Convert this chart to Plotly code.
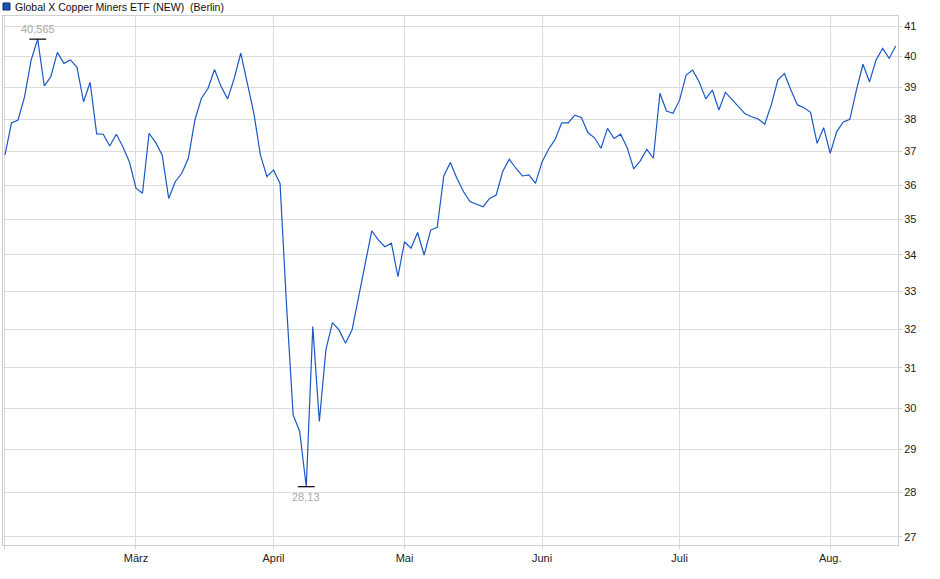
import numpy as np
import pandas as pd
import plotly.graph_objects as go

# trading days at Berlin, Feb 3 - Aug 15 2025 (no weekends / exchange holidays)
holidays = ['2025-04-18', '2025-04-21', '2025-05-01']
days = pd.bdate_range('2025-02-03', '2025-08-15')
days = days[~days.isin(pd.to_datetime(holidays))]
dates = [d.strftime('%Y-%m-%d') for d in days]

# closing prices (EUR)
prices = [
    36.90, 37.88, 37.97, 38.70, 39.88, 40.565, 39.04, 39.34, 40.13, 39.77,
    39.88, 39.64, 38.54, 39.16, 37.54, 37.53, 37.17, 37.53, 37.15, 36.69,
    35.91, 35.76, 37.56, 37.28, 36.90, 35.61, 36.10, 36.35, 36.80, 37.97,
    38.65, 38.96, 39.57, 39.02, 38.63, 39.28, 40.10, 39.07, 38.18, 36.90,
    36.25, 36.45, 36.05, 32.60, 29.83, 29.43, 28.13, 32.07, 29.67, 31.46,
    32.17, 31.98, 31.63, 31.98, 32.86, 33.82, 34.68, 34.42, 34.23, 34.33,
    33.40, 34.37, 34.19, 34.63, 34.00, 34.70, 34.78, 36.27, 36.67, 36.20,
    35.81, 35.52, 35.44, 35.37, 35.61, 35.71, 36.40, 36.77, 36.50, 36.27,
    36.30, 36.05, 36.69, 37.07, 37.37, 37.88, 37.88, 38.12, 38.05, 37.58,
    37.42, 37.10, 37.71, 37.40, 37.53, 37.12, 36.48, 36.72, 37.07, 36.80,
    38.81, 38.25, 38.18, 38.59, 39.39, 39.55, 39.17, 38.63, 38.91, 38.28,
    38.84, 38.61, 38.38, 38.16, 38.07, 38.00, 37.84, 38.44, 39.23, 39.44,
    38.91, 38.44, 38.35, 38.21, 37.25, 37.73, 36.95, 37.61, 37.91, 37.99,
    38.91, 39.74, 39.17, 39.88, 40.26, 39.93, 40.34,
]

month_ticks = ['2025-02-03', '2025-03-03', '2025-04-01', '2025-05-02',
               '2025-06-02', '2025-07-01', '2025-08-01']
month_labels = ['', 'März', 'April', 'Mai', 'Juni', 'Juli', 'Aug.']
y_ticks = list(range(27, 42))

title = 'Global X Copper Miners ETF (NEW)  (Berlin)'
blue = '#1a58c4'
grid = '#dcdcdc'


def main():
    i_hi = int(np.argmax(prices))
    i_lo = int(np.argmin(prices))

    fig = go.Figure()
    fig.add_trace(go.Scatter(x=dates, y=prices, mode='lines',
                             line=dict(color=blue, width=1.2),
                             showlegend=False, hoverinfo='x+y'))
    # high / low markers
    fig.add_trace(go.Scatter(x=[dates[i_hi], dates[i_lo]],
                             y=[prices[i_hi], prices[i_lo]],
                             mode='markers', showlegend=False,
                             marker=dict(symbol='line-ew', size=12,
                                         line=dict(color='black', width=1.2))))

    for i, shift in [(i_hi, 10), (i_lo, -10)]:
        fig.add_annotation(x=dates[i], y=np.log10(prices[i]),
                           text=str(prices[i]).replace('.', ','),
                           showarrow=False, yshift=shift,
                           font=dict(color='#a8a8a8', size=11))

    # header with legend square
    fig.add_shape(type='rect', xref='paper', yref='paper',
                  x0=0.0, x1=0.0078, y0=1.0113, y1=1.0246,
                  fillcolor='#1b53b8', line=dict(color='#0d2c6b', width=1))
    fig.add_annotation(xref='paper', yref='paper', x=0.0112, y=1.0175,
                       xanchor='left', yanchor='middle', showarrow=False,
                       text=title, font=dict(color='#111', size=10.5))

    fig.update_xaxes(type='category', range=[-0.3, 136.35],
                     tickvals=month_ticks, ticktext=month_labels,
                     showgrid=True, gridcolor=grid, gridwidth=1,
                     showline=True, mirror=True, linecolor='#cfcfcf',
                     ticks='outside', ticklen=3, tickcolor='#cfcfcf',
                     tickfont=dict(size=11, color='#222'))
    fig.update_yaxes(type='log', side='right',
                     range=[np.log10(26.82), np.log10(41.34)],
                     tickvals=y_ticks, ticktext=[str(v) for v in y_ticks],
                     showgrid=True, gridcolor=grid, gridwidth=1,
                     showline=True, mirror=True, linecolor='#cfcfcf',
                     ticks='outside', ticklen=3, tickcolor='#cfcfcf',
                     tickfont=dict(size=11, color='#222'))
    fig.update_layout(width=940, height=579, autosize=False,
                      margin=dict(l=3, r=42, t=16, b=34),
                      plot_bgcolor='white', paper_bgcolor='white',
                      font=dict(family='Liberation Sans, Arial, sans-serif'),
                      hovermode='closest')
    # the page body has an 8px default margin; drop it so the chart sits at 0,0
    fig.write_html('out.html', config={'displayModeBar': False},
                   post_script="document.body.style.margin='0';")


if __name__ == '__main__':
    main()
